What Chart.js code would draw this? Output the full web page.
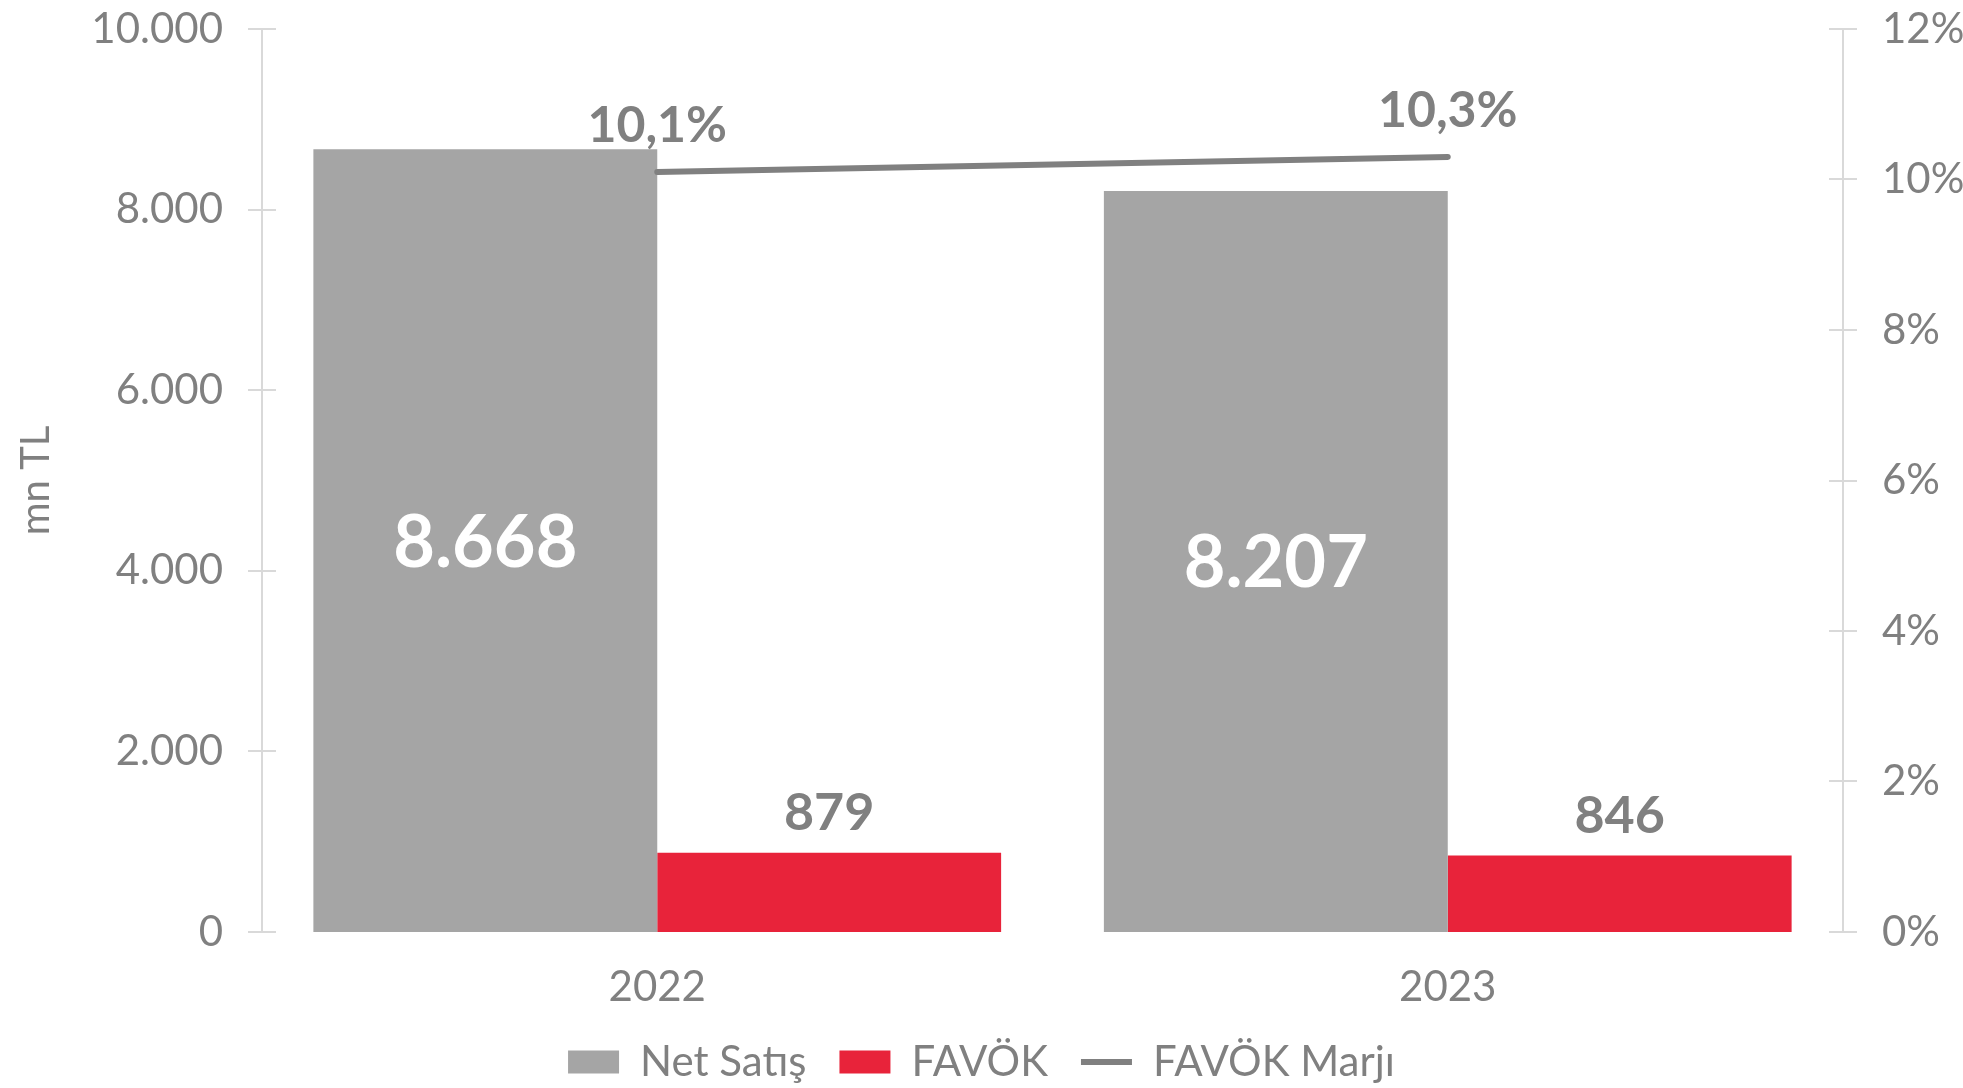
<!DOCTYPE html>
<html>
<head>
<meta charset="utf-8">
<script src="https://cdn.jsdelivr.net/npm/chart.js@4/dist/chart.umd.min.js"></script>
<style>
  html, body { margin: 0; padding: 0; background: #fff; }
  #wrap { width: 1963px; height: 1088px; }
</style>
</head>
<body>
<div id="wrap"><canvas id="chart" width="1963" height="1088"></canvas></div>
<script>
// veriler
const years = ['2022', '2023'];
const netSatis = [8668, 8207];
const favok = [879, 846];
const favokMarji = [0.101, 0.103];

const leftTicks = [0, 2000, 4000, 6000, 8000, 10000];
const rightTicks = [0, 0.02, 0.04, 0.06, 0.08, 0.10, 0.12];

const GRAY = '#A5A5A5';
const RED = '#E8233A';
const LINE = '#808080';
const TEXT = '#808080';
const AXIS = '#D9D9D9';
const FONT = 'Lato, "Open Sans", sans-serif';

// 1.234 -> "1.234"
const fmtTR = v => Math.round(v).toString().replace(/\B(?=(\d{3})+(?!\d))/g, '.');
const fmtPct = v => (v * 100).toFixed(1).replace('.', ',') + '%';

// eksenlerdeki çapraz tik çizgileri
const crossTicks = {
  id: 'crossTicks',
  afterDraw(chart) {
    const ctx = chart.ctx;
    ctx.save();
    ctx.strokeStyle = AXIS;
    ctx.lineWidth = 2;
    for (const id of ['y', 'y1']) {
      const s = chart.scales[id];
      const x = id === 'y' ? chart.chartArea.left : chart.chartArea.right;
      s.ticks.forEach((t, i) => {
        const y = Math.round(s.getPixelForTick(i));
        ctx.beginPath();
        ctx.moveTo(x - 14, y);
        ctx.lineTo(x + 14, y);
        ctx.stroke();
      });
    }
    ctx.restore();
  }
};

// veri etiketleri
const valueLabels = {
  id: 'valueLabels',
  afterDatasetsDraw(chart) {
    const ctx = chart.ctx;
    ctx.save();
    ctx.textAlign = 'center';
    ctx.textBaseline = 'alphabetic';

    chart.getDatasetMeta(0).data.forEach((el, i) => {
      ctx.font = 'bold 72px ' + FONT;
      ctx.fillStyle = '#FFFFFF';
      const cy = (el.y + el.base) / 2;
      ctx.fillText(fmtTR(netSatis[i]), el.x, cy + 26);
    });

    chart.getDatasetMeta(1).data.forEach((el, i) => {
      ctx.font = 'bold 52px ' + FONT;
      ctx.fillStyle = TEXT;
      ctx.fillText(fmtTR(favok[i]), el.x, el.y - 23);
    });

    chart.getDatasetMeta(2).data.forEach((el, i) => {
      ctx.font = 'bold 50px ' + FONT;
      ctx.fillStyle = TEXT;
      ctx.fillText(fmtPct(favokMarji[i]), el.x, el.y - 30);
    });
    ctx.restore();
  }
};

new Chart(document.getElementById('chart'), {
  type: 'bar',
  data: {
    labels: years,
    datasets: [
      {
        label: 'Net Satış',
        data: netSatis,
        backgroundColor: GRAY,
        yAxisID: 'y',
        barPercentage: 1,
        categoryPercentage: 0.87,
        pointStyle: 'rect',
        order: 1
      },
      {
        label: 'FAVÖK',
        data: favok,
        backgroundColor: RED,
        yAxisID: 'y',
        barPercentage: 1,
        categoryPercentage: 0.87,
        pointStyle: 'rect',
        order: 1
      },
      {
        type: 'line',
        label: 'FAVÖK Marjı',
        data: favokMarji,
        borderColor: LINE,
        backgroundColor: LINE,
        borderWidth: 6,
        borderCapStyle: 'round',
        pointRadius: 0,
        pointStyle: 'line',
        yAxisID: 'y1',
        order: 0
      }
    ]
  },
  options: {
    responsive: false,
    animation: false,
    devicePixelRatio: 1,
    layout: { padding: { top: 29, bottom: -5, left: 0, right: 0 } },
    plugins: {
      tooltip: { enabled: false },
      legend: {
        position: 'bottom',
        labels: {
          usePointStyle: true,
          pointStyleWidth: 51,
          boxHeight: 23,
          padding: 33,
          color: TEXT,
          font: { family: FONT, size: 42 },
          sort: (a, b) => a.datasetIndex - b.datasetIndex
        }
      }
    },
    scales: {
      x: {
        grid: { display: false, drawTicks: false },
        border: { display: false },
        ticks: { color: TEXT, font: { family: FONT, size: 42 }, padding: 30 },
        afterFit: s => { s.height = 76; }
      },
      y: {
        position: 'left',
        min: 0,
        max: 10000,
        afterBuildTicks: s => { s.ticks = leftTicks.map(v => ({ value: v })); },
        grid: { display: false, drawTicks: true, tickLength: 39 },
        border: { display: true, color: AXIS, width: 2 },
        ticks: {
          color: TEXT,
          font: { family: FONT, size: 42 },
          padding: 0,
          callback: v => fmtTR(v)
        },
        title: {
          display: true,
          text: 'mn TL',
          color: TEXT,
          font: { family: FONT, size: 40 },
          padding: { top: 12, bottom: 0 }
        },
        afterFit: s => { s.width = 262; }
      },
      y1: {
        position: 'right',
        min: 0,
        max: 0.12,
        afterBuildTicks: s => { s.ticks = rightTicks.map(v => ({ value: v })); },
        grid: { display: false, drawTicks: true, tickLength: 39 },
        border: { display: true, color: AXIS, width: 2 },
        ticks: {
          color: TEXT,
          font: { family: FONT, size: 42 },
          padding: 0,
          callback: v => Math.round(v * 100) + '%'
        },
        afterFit: s => { s.width = 120; }
      }
    }
  },
  plugins: [crossTicks, valueLabels]
});
</script>
</body>
</html>
